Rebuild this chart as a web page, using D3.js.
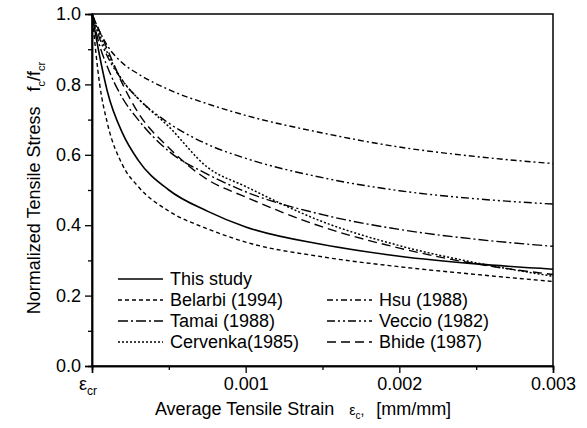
<!DOCTYPE html>
<html><head><meta charset="utf-8">
<script src="https://cdn.jsdelivr.net/npm/d3@7"></script>
<style>
body{margin:0;background:#fff;}
text{font-family:"Liberation Sans",Arial,sans-serif;fill:#000;}
</style></head><body>
<svg id="c" width="587" height="428"></svg>
<script>
const strains = [0, 0.00005, 0.0001, 0.0002, 0.0003, 0.0005, 0.00075, 0.001, 0.0015, 0.002, 0.0025, 0.003];
const thisStudy = [1.0, 0.88, 0.78, 0.66, 0.585, 0.50, 0.44, 0.395, 0.345, 0.312, 0.29, 0.275];
const belarbi   = [1.0, 0.80, 0.69, 0.57, 0.51, 0.44, 0.39, 0.352, 0.31, 0.282, 0.26, 0.24];
const hsu       = [1.0, 0.95, 0.91, 0.86, 0.83, 0.785, 0.745, 0.712, 0.662, 0.622, 0.595, 0.575];
const tamai     = [1.0, 0.91, 0.85, 0.76, 0.70, 0.61, 0.545, 0.495, 0.43, 0.388, 0.36, 0.34];
const veccio    = [1.0, 0.93, 0.88, 0.81, 0.76, 0.69, 0.63, 0.59, 0.535, 0.498, 0.475, 0.46];
const cervenka  = [1.0, 0.94, 0.89, 0.81, 0.76, 0.68, 0.565, 0.51, 0.41, 0.342, 0.293, 0.255];
const bhide     = [1.0, 0.95, 0.90, 0.80, 0.72, 0.62, 0.53, 0.48, 0.395, 0.335, 0.29, 0.26];
const seriesNames = ["This study","Belarbi (1994)","Hsu (1988)","Tamai (1988)","Veccio (1982)","Cervenka(1985)","Bhide (1987)"];
const yTicks = [0.0, 0.2, 0.4, 0.6, 0.8, 1.0];
const yMinor = [0.1, 0.3, 0.5, 0.7, 0.9];
const xTicks = [0, 0.001, 0.002, 0.003];
const xTickLabels = ["", "0.001", "0.002", "0.003"];
const xMinor = [0.0005, 0.0015, 0.0025];

const series = [
  {name: seriesNames[0], values: thisStudy, dash: null, w: 1.6},
  {name: seriesNames[1], values: belarbi, dash: "4,3", w: 1.4},
  {name: seriesNames[2], values: hsu, dash: "6,3,2,3", w: 1.4},
  {name: seriesNames[3], values: tamai, dash: "10,3,2,3", w: 1.4},
  {name: seriesNames[4], values: veccio, dash: "8,3,2,3,2,3", w: 1.4},
  {name: seriesNames[5], values: cervenka, dash: "2,2", w: 1.5},
  {name: seriesNames[6], values: bhide, dash: "9,5", w: 1.4}
];

const L = 92, R = 553, T = 14, B = 366;
const FS = "18px";
const svg = d3.select("#c");
const x = d3.scaleLinear().domain([0, 0.003]).range([L, R]);
const y = d3.scaleLinear().domain([0, 1]).range([B, T]);

svg.append("rect").attr("x", L).attr("y", T).attr("width", R - L).attr("height", B - T)
  .attr("fill", "none").attr("stroke", "#000").attr("stroke-width", 1.5);

svg.append("g").attr("transform", `translate(${L},0)`)
  .call(d3.axisLeft(y).tickValues(yTicks).tickFormat(d3.format(".1f")).tickSize(7).tickPadding(4));
svg.append("g").attr("transform", `translate(${L},0)`)
  .call(d3.axisLeft(y).tickValues(yMinor).tickFormat("").tickSize(4));
svg.append("g").attr("transform", `translate(0,${B})`)
  .call(d3.axisBottom(x).tickValues(xTicks).tickFormat((d, i) => xTickLabels[i]).tickSize(7).tickPadding(4));
svg.append("g").attr("transform", `translate(0,${B})`)
  .call(d3.axisBottom(x).tickValues(xMinor).tickFormat("").tickSize(4));
svg.selectAll(".domain").attr("stroke", "#000").attr("stroke-width", 1.5);
svg.selectAll(".tick line").attr("stroke", "#000").attr("stroke-width", 1.3);
svg.selectAll(".tick text").style("font-size", FS).style("font-family", "Liberation Sans, Arial, sans-serif");

const ecr = svg.append("text").attr("x", x(0) - 4).attr("y", B + 24).attr("text-anchor", "middle").style("font-size", FS);
ecr.append("tspan").text("ε");
ecr.append("tspan").attr("dy", 5).style("font-size", "12px").text("cr");

const xt = svg.append("text").attr("x", 303).attr("y", B + 49).attr("text-anchor", "middle").style("font-size", FS).attr("xml:space", "preserve");
xt.append("tspan").text("Average Tensile Strain   ");
xt.append("tspan").style("font-size", "14px").text("ε");
xt.append("tspan").attr("dy", 4).style("font-size", "10px").text("c");
xt.append("tspan").attr("dy", -4).style("font-size", "14px").text(",   ");
xt.append("tspan").text("[mm/mm]");

const yt = svg.append("text").attr("transform", `translate(40,${(T + B) / 2 - 2}) rotate(-90)`).attr("text-anchor", "middle").style("font-size", FS).attr("xml:space", "preserve");
yt.append("tspan").text("Normalized Tensile Stress   f");
yt.append("tspan").attr("dy", 5).style("font-size", "11px").text("c");
yt.append("tspan").attr("dy", -5).text("/f");
yt.append("tspan").attr("dy", 5).style("font-size", "11px").text("cr");

const line = d3.line().x((d, i) => x(strains[i])).y(d => y(d)).curve(d3.curveMonotoneX);
svg.append("g").selectAll("path").data(series).join("path")
  .attr("d", d => line(d.values))
  .attr("fill", "none").attr("stroke", "#000")
  .attr("stroke-width", d => d.w)
  .attr("stroke-dasharray", d => d.dash);

const legPos = [
  {c: 0, r: 0}, {c: 0, r: 1}, {c: 1, r: 1}, {c: 0, r: 2}, {c: 1, r: 2}, {c: 0, r: 3}, {c: 1, r: 3}
];
const colX = [118, 327], rowY = [279, 300, 321, 342];
const lg = svg.append("g");
series.forEach((s, i) => {
  const p = legPos[i];
  const lx = colX[p.c], ly = rowY[p.r];
  lg.append("line").attr("x1", lx).attr("x2", lx + 45).attr("y1", ly).attr("y2", ly)
    .attr("stroke", "#000").attr("stroke-width", s.w).attr("stroke-dasharray", s.dash);
  lg.append("text").attr("x", lx + 52).attr("y", ly + 6).style("font-size", FS).text(s.name);
});
</script>
</body></html>
